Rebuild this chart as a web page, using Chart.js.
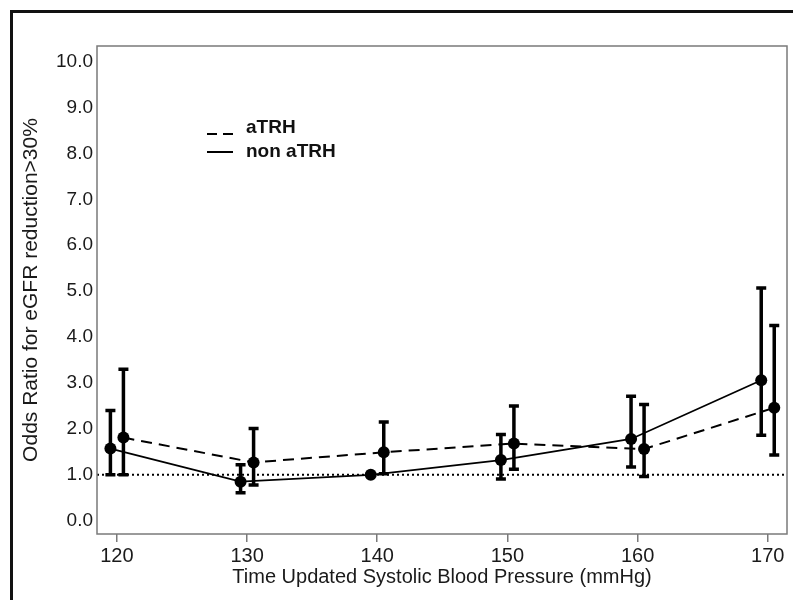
<!DOCTYPE html>
<html><head><meta charset="utf-8">
<script src="https://cdn.jsdelivr.net/npm/chart.js@4.4.1/dist/chart.umd.min.js"></script>
<style>html,body{margin:0;padding:0;background:#fff;} #wrap{width:793px;height:600px;position:relative;}</style>
</head><body><div id="wrap"><canvas id="c" width="793" height="600"></canvas></div>
<script>
// ---- data ----
const seriesNames = ['aTRH', 'non aTRH'];
const xNonATRH = [119.5, 129.5, 139.5, 149.5, 159.5, 169.5];
const orNonATRH = [1.57, 0.85, 1.0, 1.32, 1.78, 3.06];
const loNonATRH = [1.0, 0.61, null, 0.91, 1.17, 1.86];
const hiNonATRH = [2.40, 1.22, null, 1.88, 2.71, 5.07];
const xATRH = [120.5, 130.5, 140.5, 150.5, 160.5, 170.5];
const orATRH = [1.81, 1.27, 1.49, 1.68, 1.56, 2.46];
const loATRH = [1.0, 0.78, 1.02, 1.12, 0.96, 1.43];
const hiATRH = [3.30, 2.01, 2.15, 2.50, 2.53, 4.25];
const xTicks = [120, 130, 140, 150, 160, 170];
const yTicks = [0, 1, 2, 3, 4, 5, 6, 7, 8, 9, 10];
const refOR = 1.0;
const xTitle = 'Time Updated Systolic Blood Pressure (mmHg)';
const yTitle = 'Odds Ratio for eGFR reduction>30%';

const FONT = "'Liberation Sans', Arial, Helvetica, sans-serif";
const toPts = (xs, ys) => xs.map((x, i) => ({x: x, y: ys[i]}));

const frameAndRef = {
  id: 'frameAndRef',
  beforeDraw(chart) {
    const ctx = chart.ctx;
    ctx.save();
    ctx.fillStyle = '#fff';
    ctx.fillRect(0, 0, chart.width, chart.height);
    ctx.strokeStyle = '#111';
    ctx.lineWidth = 3;
    ctx.beginPath();
    ctx.moveTo(11.5, chart.height);
    ctx.lineTo(11.5, 11.5);
    ctx.lineTo(chart.width, 11.5);
    ctx.stroke();
    ctx.restore();
  },
  beforeDatasetsDraw(chart) {
    const {ctx, chartArea: a, scales: {x, y}} = chart;
    ctx.save();
    // reference line
    const yr = y.getPixelForValue(refOR);
    ctx.strokeStyle = '#000';
    ctx.lineWidth = 2;
    ctx.setLineDash([2, 3]);
    ctx.beginPath();
    ctx.moveTo(a.left, yr);
    ctx.lineTo(a.right, yr);
    ctx.stroke();
    ctx.setLineDash([]);
    // error bars
    const bars = [[xNonATRH, loNonATRH, hiNonATRH], [xATRH, loATRH, hiATRH]];
    ctx.lineWidth = 3.5;
    ctx.lineCap = 'butt';
    bars.forEach(([xs, lo, hi]) => {
      xs.forEach((xv, i) => {
        if (lo[i] == null || hi[i] == null) return;
        const px = x.getPixelForValue(xv);
        const p1 = y.getPixelForValue(lo[i]);
        const p2 = y.getPixelForValue(hi[i]);
        ctx.beginPath();
        ctx.moveTo(px, p1); ctx.lineTo(px, p2);
        ctx.moveTo(px - 5, p1); ctx.lineTo(px + 5, p1);
        ctx.moveTo(px - 5, p2); ctx.lineTo(px + 5, p2);
        ctx.stroke();
      });
    });
    ctx.restore();
  },
  afterDraw(chart) {
    const {ctx, chartArea: a} = chart;
    ctx.save();
    ctx.strokeStyle = '#7a7a7a';
    ctx.lineWidth = 1.5;
    ctx.strokeRect(a.left, a.top, a.right - a.left, a.bottom - a.top);
    // legend
    ctx.strokeStyle = '#000';
    ctx.lineWidth = 2;
    ctx.setLineDash([10, 6]);
    ctx.beginPath(); ctx.moveTo(207, 134); ctx.lineTo(233, 134); ctx.stroke();
    ctx.setLineDash([]);
    ctx.beginPath(); ctx.moveTo(207, 152); ctx.lineTo(233, 152); ctx.stroke();
    ctx.fillStyle = '#111';
    ctx.font = "bold 19px " + FONT;
    ctx.textBaseline = 'middle';
    ctx.textAlign = 'left';
    ctx.fillText(seriesNames[0], 246, 128);
    ctx.fillText(seriesNames[1], 246, 152);
    ctx.restore();
  }
};

new Chart(document.getElementById('c'), {
  type: 'line',
  data: {
    datasets: [
      {label: seriesNames[1], data: toPts(xNonATRH, orNonATRH), borderColor: '#000', backgroundColor: '#000',
       borderWidth: 1.8, pointRadius: 6, pointBackgroundColor: '#000', pointBorderWidth: 0, tension: 0},
      {label: seriesNames[0], data: toPts(xATRH, orATRH), borderColor: '#000', backgroundColor: '#000',
       borderWidth: 2, borderDash: [11, 7], pointRadius: 6, pointBackgroundColor: '#000', pointBorderWidth: 0, tension: 0}
    ]
  },
  options: {
    responsive: false,
    animation: false,
    devicePixelRatio: 1,
    layout: {padding: {top: 46, right: 5, left: 0, bottom: 0}},
    plugins: {legend: {display: false}, tooltip: {enabled: false}},
    scales: {
      x: {
        type: 'linear', min: 118.47, max: 171.48,
        afterBuildTicks: s => { s.ticks = xTicks.map(v => ({value: v})); },
        afterFit: s => { s.height = 66; },
        grid: {display: true, drawOnChartArea: false, drawTicks: true, tickLength: 8, color: '#7a7a7a', lineWidth: 1.5},
        border: {display: false},
        ticks: {color: '#1a1a1a', font: {family: FONT, size: 20}, padding: 2, maxRotation: 0, autoSkip: false},
        title: {display: true, text: xTitle, color: '#1a1a1a', font: {family: FONT, size: 20}, padding: {top: 0, bottom: 11}}
      },
      y: {
        type: 'linear', min: -0.29, max: 10.34,
        afterBuildTicks: s => { s.ticks = yTicks.map(v => ({value: v})); },
        afterFit: s => { s.width = 97; },
        grid: {display: false, drawTicks: false, tickLength: 0},
        border: {display: false},
        ticks: {color: '#1a1a1a', font: {family: FONT, size: 19}, padding: 4, callback: v => Number(v).toFixed(1)},
        title: {display: true, text: yTitle, color: '#1a1a1a', font: {family: FONT, size: 21}, padding: {top: 19, bottom: 0}}
      }
    }
  },
  plugins: [frameAndRef]
});
</script>
</body></html>
